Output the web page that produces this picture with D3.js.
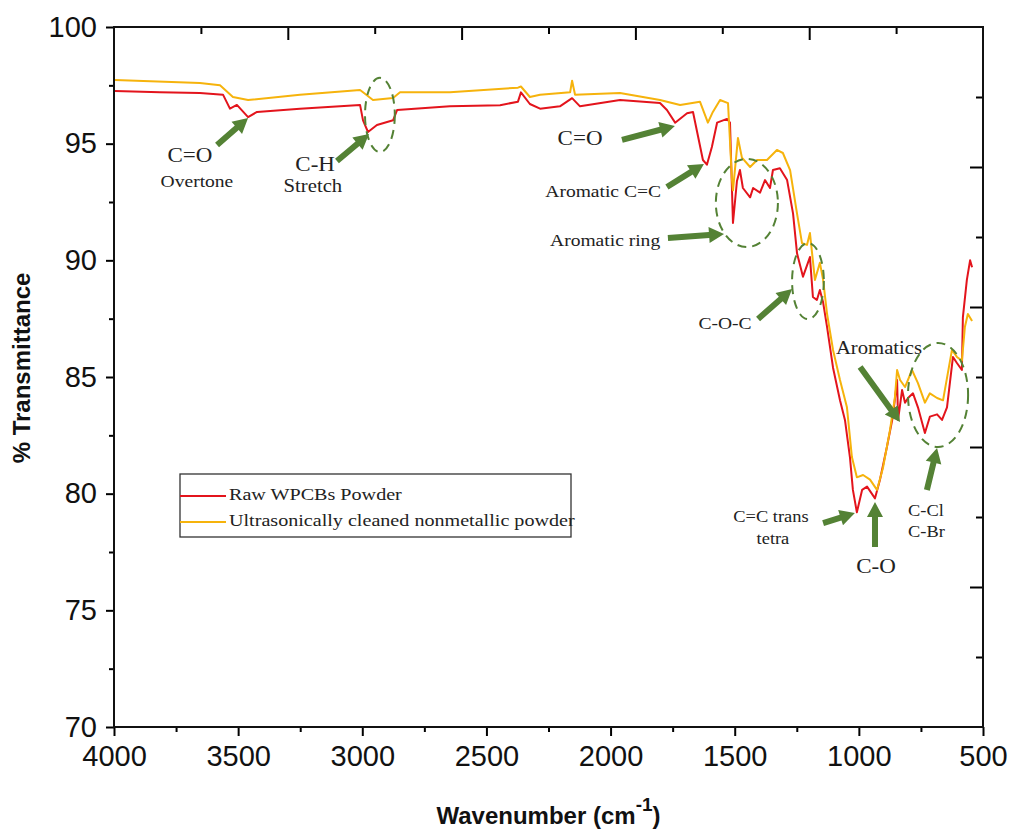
<!DOCTYPE html>
<html><head><meta charset="utf-8">
<script src="https://cdn.jsdelivr.net/npm/d3@7"></script>
<style>body{margin:0;background:#fff}svg{display:block}</style>
</head><body>
<svg id="chart" width="1009" height="831"></svg>
<script>
// ---- data (wavenumber cm-1, % transmittance) ----
const wnRaw = [3996,3815,3654,3561,3533,3505,3460,3424,3251,3009,2997,2977,2941,2876,2860,2647,2445,2373,2361,2325,2284,2204,2155,2123,1962,1801,1773,1740,1692,1668,1628,1612,1592,1571,1531,1519,1507,1491,1479,1467,1438,1426,1398,1378,1358,1346,1318,1289,1265,1249,1225,1197,1185,1169,1157,1144,1128,1104,1076,1056,1036,1024,1008,987,967,935,915,887,863,846,842,826,814,802,782,762,734,714,685,665,645,621,605,585,581,565,552,544];
const tRaw  = [97.26,97.2,97.17,97.1,96.5,96.66,96.14,96.36,96.5,96.66,96.0,95.5,95.8,96.0,96.44,96.6,96.65,96.8,97.2,96.7,96.5,96.6,96.95,96.6,96.87,96.74,96.44,95.9,96.3,96.36,94.3,94.1,94.86,95.9,96.06,95.9,91.6,93.4,93.87,93.1,92.7,93.1,92.9,93.44,93.1,93.87,93.95,93.44,92.0,90.3,89.3,90.14,88.43,88.3,88.73,88.2,87.14,85.4,84.0,83.16,81.57,80.16,79.2,80.16,80.3,79.8,80.6,82.0,83.3,84.87,83.16,84.44,83.9,84.1,84.3,83.7,82.6,83.3,83.4,83.16,83.7,85.86,85.6,85.3,87.57,89.16,90.0,89.7];
const wnClean = [3996,3654,3573,3521,3460,3251,3009,2997,2957,2876,2848,2647,2373,2361,2325,2284,2163,2155,2143,1962,1801,1720,1640,1608,1588,1559,1527,1511,1507,1487,1471,1438,1410,1370,1330,1306,1277,1249,1229,1209,1197,1177,1157,1144,1128,1104,1076,1048,1028,1008,983,955,927,903,875,855,846,834,814,786,762,734,714,685,661,625,605,585,573,561,544];
const tClean  = [97.73,97.6,97.5,97.0,96.87,97.1,97.3,97.2,96.87,96.96,97.2,97.2,97.4,97.45,97.0,97.1,97.2,97.7,97.1,97.17,96.87,96.66,96.8,95.9,96.36,96.87,96.74,93.44,93.0,95.24,94.4,94.0,94.3,94.3,94.73,94.6,93.87,92.0,90.74,90.66,91.17,89.16,89.9,89.16,87.7,86.16,84.87,83.7,81.57,80.7,80.8,80.6,80.16,81.1,82.7,84.1,85.3,84.87,84.57,85.3,84.74,83.9,84.3,84.1,84.0,86.16,85.86,85.7,87.14,87.7,87.4];
const seriesNames = ["Raw WPCBs Powder","Ultrasonically cleaned nonmetallic powder"];
const xTicks = [4000,3500,3000,2500,2000,1500,1000,500];
const xMinor = [3750,3250,2750,2250,1750,1250,750];
const yTicks = [70,75,80,85,90,95,100];
const yMinor = [72.5,77.5,82.5,87.5,92.5,97.5];

// annotations in data coordinates
const labels = [
  {t:"C=O", w:3694, v:94.43, fs:20},
  {t:"Overtone", w:3666, v:93.31, fs:17},
  {t:"C-H", w:3190, v:94.04, fs:20},
  {t:"Stretch", w:3199, v:93.10, fs:18},
  {t:"C=O", w:2123, v:95.16, fs:20},
  {t:"Aromatic C=C", w:2030, v:92.89, fs:17},
  {t:"Aromatic ring", w:2022, v:90.79, fs:17},
  {t:"C-O-C", w:1539, v:87.23, fs:17},
  {t:"Aromatics", w:919, v:86.16, fs:18},
  {t:"C=C trans", w:1354, v:78.96, fs:16},
  {t:"tetra", w:1346, v:78.01, fs:16},
  {t:"C-O", w:931, v:76.81, fs:20},
  {t:"C-Cl", w:802, v:79.21, fs:16, anchor:"start"},
  {t:"C-Br", w:802, v:78.31, fs:16, anchor:"start"}
];
const arrows = [
  {w1:3585,v1:94.94,w2:3460,v2:96.10},
  {w1:3102,v1:94.26,w2:2973,v2:95.41},
  {w1:1954,v1:95.16,w2:1741,v2:95.76},
  {w1:1773,v1:93.14,w2:1624,v2:94.13},
  {w1:1769,v1:90.96,w2:1543,v2:91.13},
  {w1:1406,v1:87.49,w2:1269,v2:88.77},
  {w1:995,v1:85.43,w2:834,v2:83.07},
  {w1:726,v1:80.16,w2:685,v2:81.96},
  {w1:1144,v1:78.74,w2:1016,v2:79.17},
  {w1:935,v1:77.71,w2:935,v2:79.64}
];
const ellipses = [
  {w:2929,v:96.23,rw:60,rv:1.59},
  {w:1451,v:92.46,rw:125,rv:1.89},
  {w:1205,v:89.11,rw:64,rv:1.63},
  {w:681,v:84.23,rw:121,rv:2.23}
];

const L=114,R=983,T=27,B=727;
const svg=d3.select("#chart");
const x=d3.scaleLinear().domain([4000,500]).range([L,R]);
const y=d3.scaleLinear().domain([70,100]).range([B,T]);
const sans="'Liberation Sans', Arial, sans-serif";
const serif="'Liberation Serif','Times New Roman', serif";
const green="#548235";
const colors=["#e3141c","#f6b30c"];

// curves
const line=d3.line().x(d=>x(d[0])).y(d=>y(d[1]));
const sRaw=wnRaw.map((w,i)=>[w,tRaw[i]]);
const sClean=wnClean.map((w,i)=>[w,tClean[i]]);
svg.append("path").attr("d",line(sRaw)).attr("fill","none").attr("stroke",colors[0]).attr("stroke-width",2).attr("stroke-linejoin","round");
svg.append("path").attr("d",line(sClean)).attr("fill","none").attr("stroke",colors[1]).attr("stroke-width",2).attr("stroke-linejoin","round");

// axes
function styleAxis(g){g.select(".domain").remove();g.selectAll("line").attr("stroke","#000").attr("stroke-width",2);}
svg.append("g").attr("transform",`translate(${L},0)`).call(d3.axisLeft(y).tickValues(yTicks).tickSize(8).tickPadding(9).tickFormat(d3.format("d")))
  .call(styleAxis).call(g=>g.selectAll("text").attr("font-family",sans).attr("font-size",29).attr("fill","#111"));
svg.append("g").attr("transform",`translate(${L},0)`).call(d3.axisLeft(y).tickValues(yMinor).tickSize(5).tickFormat(""))
  .call(styleAxis);
svg.append("g").attr("transform",`translate(0,${B})`).call(d3.axisBottom(x).tickValues(xTicks).tickSize(9).tickPadding(9).tickFormat(d3.format("d")))
  .call(styleAxis).call(g=>g.selectAll("text").attr("font-family",sans).attr("font-size",29).attr("fill","#111"));
svg.append("g").attr("transform",`translate(0,${B})`).call(d3.axisBottom(x).tickValues(xMinor).tickSize(5).tickFormat(""))
  .call(styleAxis);
// decorative top / right ticks (independent frame)
const topS=d3.scaleLinear().domain([0,10]).range([L,R]);
const rightS=d3.scaleLinear().domain([0,10]).range([T,B]);
svg.append("g").attr("transform",`translate(0,${T})`).call(d3.axisBottom(topS).tickValues([2,4,6,8]).tickSize(13).tickFormat("")).call(styleAxis);
svg.append("g").attr("transform",`translate(0,${T})`).call(d3.axisBottom(topS).tickValues([1,3,5,7,9]).tickSize(7).tickFormat("")).call(styleAxis);
svg.append("g").attr("transform",`translate(${R},0)`).call(d3.axisLeft(rightS).tickValues([2,4,6,8]).tickSize(13).tickFormat("")).call(styleAxis);
svg.append("g").attr("transform",`translate(${R},0)`).call(d3.axisLeft(rightS).tickValues([1,3,5,7,9]).tickSize(7).tickFormat("")).call(styleAxis);
svg.append("rect").attr("x",L).attr("y",T).attr("width",R-L).attr("height",B-T).attr("fill","none").attr("stroke","#111").attr("stroke-width",2);

// axis titles
const xt=svg.append("text").attr("x",(L+R)/2).attr("y",824).attr("text-anchor","middle")
  .attr("font-family",sans).attr("font-weight","bold").attr("font-size",24).attr("fill","#111");
xt.append("tspan").text("Wavenumber (cm");
xt.append("tspan").attr("dy",-13).attr("font-size",19).text("-1");
xt.append("tspan").attr("dy",13).text(")");
svg.append("text").attr("transform","translate(30,368) rotate(-90)").attr("text-anchor","middle")
  .attr("font-family",sans).attr("font-weight","bold").attr("font-size",24).attr("fill","#111").text("% Transmittance");

// ellipses
svg.selectAll(".ell").data(ellipses).join("ellipse")
  .attr("cx",d=>x(d.w)).attr("cy",d=>y(d.v))
  .attr("rx",d=>Math.abs(x(d.w+d.rw)-x(d.w))).attr("ry",d=>Math.abs(y(d.v+d.rv)-y(d.v)))
  .attr("fill","none").attr("stroke",green).attr("stroke-width",2).attr("stroke-dasharray","9,6");

// arrows
function arrowPath(x1,y1,x2,y2){
  const dx=x2-x1,dy=y2-y1,len=Math.hypot(dx,dy),ux=dx/len,uy=dy/len,nx=-uy,ny=ux;
  const hl=15,hw=8,sw=3;
  const bx=x2-ux*hl,by=y2-uy*hl;
  const p=[[x1+nx*sw,y1+ny*sw],[bx+nx*sw,by+ny*sw],[bx+nx*hw,by+ny*hw],[x2,y2],[bx-nx*hw,by-ny*hw],[bx-nx*sw,by-ny*sw],[x1-nx*sw,y1-ny*sw]];
  return "M"+p.map(q=>q.join(",")).join("L")+"Z";
}
svg.selectAll(".arr").data(arrows).join("path")
  .attr("d",d=>arrowPath(x(d.w1),y(d.v1),x(d.w2),y(d.v2))).attr("fill",green);

// labels
svg.selectAll(".lab").data(labels).join("g")
  .attr("transform",d=>`translate(${x(d.w)},${y(d.v)}) scale(1.15,1)`)
  .append("text").attr("text-anchor",d=>d.anchor||"middle").attr("dominant-baseline","middle")
  .attr("font-family",serif).attr("font-size",d=>d.fs).attr("fill","#222").text(d=>d.t);

// legend
const lg=svg.append("g");
lg.append("rect").attr("x",180).attr("y",474).attr("width",391).attr("height",63).attr("fill","#fff").attr("stroke","#333").attr("stroke-width",1.3);
seriesNames.forEach((n,i)=>{
  const yy=496+i*26;
  lg.append("line").attr("x1",180).attr("x2",226).attr("y1",yy).attr("y2",yy).attr("stroke",colors[i]).attr("stroke-width",2);
  lg.append("g").attr("transform",`translate(229,${yy}) scale(1.15,1)`).append("text")
    .attr("dominant-baseline","middle").attr("font-family",serif).attr("font-size",17.5).attr("fill","#222").text(n);
});
</script>
</body></html>
